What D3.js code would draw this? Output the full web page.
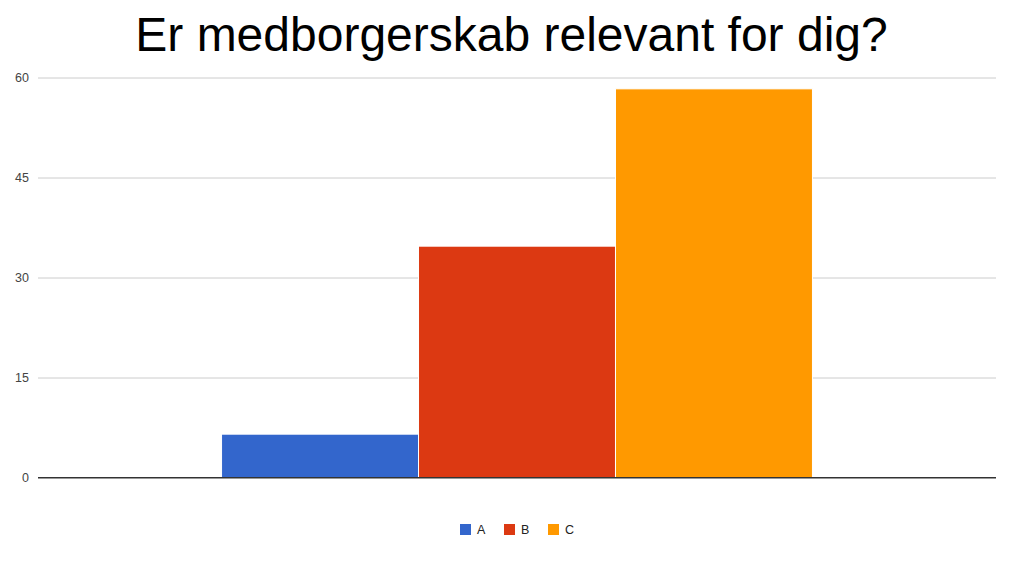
<!DOCTYPE html>
<html><head><meta charset="utf-8">
<script src="https://cdn.jsdelivr.net/npm/d3@7"></script>
<style>body{margin:0;background:#fff;}svg{display:block;}</style>
</head><body>
<svg id="c" width="1024" height="574"></svg>
<script>
const title = "Er medborgerskab relevant for dig?";
const categories = [""];
const seriesNames = ["A", "B", "C"];
const seriesValues = [6.5, 34.7, 58.3];
const seriesColors = ["#3366cc", "#dc3912", "#ff9900"];
const yTicks = [0, 15, 30, 45, 60];

const svg = d3.select("#c");
const m = {left: 38, right: 28, top: 77.5, bottom: 96.5};
const W = 1024, H = 574;
const x0 = d3.scaleBand().domain(categories).range([m.left, W - m.right]).padding(0.237);
const x1 = d3.scaleBand().domain(seriesNames).range([0, x0.bandwidth()]);
const y = d3.scaleLinear().domain([0, 60]).range([H - m.bottom, m.top]);

svg.append("text").attr("x", 511.5).attr("y", 51).attr("text-anchor", "middle")
  .attr("font-family", "Liberation Sans, Arial, sans-serif").attr("font-size", 48)
  .attr("fill", "#000").text(title);

const gy = svg.append("g").attr("transform", `translate(${m.left},0)`)
  .call(d3.axisLeft(y).tickValues(yTicks).tickSize(-(W - m.left - m.right)).tickPadding(9));
gy.select(".domain").remove();
gy.selectAll(".tick line").attr("stroke", d => d === 0 ? "#333" : "#ccc").attr("stroke-width", 1);
gy.selectAll(".tick text").attr("font-family", "Liberation Sans, Arial, sans-serif")
  .attr("font-size", 12.5).attr("fill", "#444");

const g = svg.append("g").attr("transform", `translate(${x0(categories[0])},0)`);
g.selectAll("rect").data(seriesNames).join("rect")
  .attr("x", d => x1(d)).attr("width", x1.bandwidth())
  .attr("y", (d, i) => y(seriesValues[i])).attr("height", (d, i) => y(0) - y(seriesValues[i]))
  .attr("fill", (d, i) => seriesColors[i]).attr("stroke", "#fff").attr("stroke-width", 1);

svg.append("line").attr("x1", m.left).attr("x2", W - m.right).attr("y1", y(0)).attr("y2", y(0))
  .attr("stroke", "#333").attr("stroke-width", 1);

const legendX = [460, 504, 548];
const lg = svg.append("g");
seriesNames.forEach((s, i) => {
  lg.append("rect").attr("x", legendX[i]).attr("y", 524).attr("width", 11).attr("height", 11).attr("fill", seriesColors[i]);
  lg.append("text").attr("x", legendX[i] + 17).attr("y", 534).attr("font-family", "Liberation Sans, Arial, sans-serif")
    .attr("font-size", 12.5).attr("fill", "#222").text(s);
});
</script>
</body></html>
